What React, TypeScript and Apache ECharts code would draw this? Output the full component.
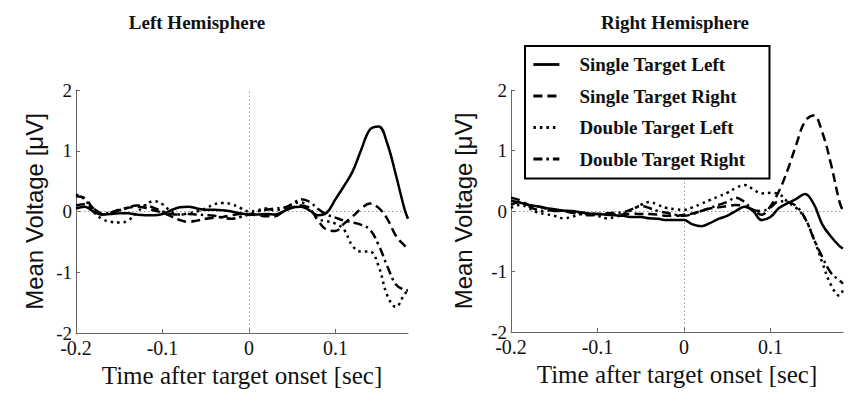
import React, { useEffect, useRef } from "react";
import * as echarts from "echarts";

// time samples (sec)
const times = [
  -0.2, -0.19, -0.18, -0.17, -0.16, -0.15, -0.14, -0.13, -0.12, -0.11,
  -0.1, -0.09, -0.08, -0.07, -0.06, -0.05, -0.04, -0.03, -0.02, -0.01,
  0.0, 0.01, 0.02, 0.03, 0.04, 0.05, 0.06, 0.07, 0.08, 0.09,
  0.1, 0.11, 0.12, 0.13, 0.14, 0.15, 0.16, 0.17, 0.18, 0.184,
];

const seriesNames = [
  "Single Target Left",
  "Single Target Right",
  "Double Target Left",
  "Double Target Right",
];

// Left hemisphere
const leftSTL = [
  0.05, 0.08, 0.0, -0.05, -0.04, -0.03, -0.03, -0.05, -0.06, -0.06,
  -0.04, 0.02, 0.07, 0.08, 0.05, 0.03, 0.03, 0.02, 0.0, -0.03,
  -0.05, -0.05, -0.04, -0.05, 0.0, 0.07, 0.08, 0.02, -0.06, -0.02,
  0.2, 0.42, 0.66, 1.02, 1.35, 1.4, 1.12, 0.6, 0.04, -0.12,
];
const leftSTR = [
  0.25, 0.22, 0.05, -0.05, -0.02, 0.03, 0.06, 0.08, 0.06, 0.02,
  -0.02, -0.08, -0.14, -0.17, -0.15, -0.12, -0.1, -0.09, -0.06, -0.04,
  -0.05, -0.06, -0.08, -0.08, 0.0, 0.06, 0.1, 0.05, -0.15, -0.3,
  -0.32, -0.2, -0.08, 0.05, 0.13, 0.06, -0.12, -0.4, -0.56, -0.6,
];
const leftDTL = [
  0.28, 0.2, 0.0, -0.12, -0.17, -0.18, -0.15, -0.02, 0.1, 0.17,
  0.12, 0.0, -0.05, -0.03, 0.0, 0.05, 0.12, 0.14, 0.12, 0.06,
  0.0, 0.02, 0.05, 0.02, 0.05, 0.12, 0.15, 0.05, -0.12, -0.16,
  -0.2, -0.3, -0.57, -0.66, -0.66, -0.9, -1.38, -1.57, -1.36, -1.3,
];
const leftDTR = [
  0.1, 0.12, 0.05, -0.03, -0.02, 0.02, 0.06, 0.1, 0.1, 0.06,
  0.0, -0.04, -0.05, -0.04, -0.05, -0.06, -0.07, -0.1, -0.12, -0.09,
  -0.05, 0.0, 0.03, 0.05, 0.06, 0.12, 0.2, 0.16, 0.04, -0.05,
  -0.1, -0.15, -0.18, -0.22, -0.3, -0.55, -0.9, -1.2, -1.29, -1.3,
];

// Right hemisphere
const rightSTL = [
  0.17, 0.14, 0.1, 0.08, 0.05, 0.03, 0.01, 0.0, -0.02, -0.04,
  -0.05, -0.06, -0.07, -0.08, -0.1, -0.1, -0.12, -0.13, -0.15, -0.15,
  -0.15, -0.22, -0.25, -0.2, -0.13, -0.08, 0.0, 0.07, 0.0, -0.15,
  -0.1, 0.05, 0.13, 0.2, 0.28, 0.12, -0.22, -0.42, -0.58, -0.62,
];
const rightSTR = [
  0.22, 0.18, 0.1, 0.08, 0.04, 0.0, 0.0, -0.02, -0.03, -0.04,
  -0.05, -0.05, -0.05, -0.06, -0.04, -0.05, -0.05, -0.06, -0.08, -0.08,
  -0.06, -0.04, 0.0, 0.04, 0.06, 0.08, 0.1, 0.08, 0.02, -0.06,
  0.08, 0.33, 0.68, 1.1, 1.48, 1.58, 1.3, 0.78, 0.15, 0.0,
];
const rightDTL = [
  0.05, 0.1, 0.05, -0.02, -0.05, -0.08, -0.12, -0.1, -0.05, -0.05,
  -0.08, -0.12, -0.1, -0.05, 0.02, 0.1, 0.15, 0.1, 0.05, 0.03,
  0.02, 0.06, 0.12, 0.18, 0.24, 0.3, 0.38, 0.43, 0.36, 0.29,
  0.3, 0.28, 0.15, 0.05, -0.12, -0.45, -0.85, -1.22, -1.4, -1.3,
];
const rightDTR = [
  0.1, 0.15, 0.08, 0.02, 0.0, 0.02, 0.0, -0.03, -0.05, -0.07,
  -0.06, -0.04, -0.03, -0.02, 0.03, 0.08, 0.05, 0.0, -0.03, -0.06,
  -0.08, -0.05, 0.0, 0.05, 0.1, 0.15, 0.22, 0.15, 0.02, 0.0,
  0.06, 0.16, 0.15, 0.08, -0.12, -0.45, -0.76, -1.02, -1.15, -1.2,
];

const titles = ["Left Hemisphere", "Right Hemisphere"];
const xAxisName = "Time after target onset [sec]";
const yAxisName = "Mean Voltage [\u03bcV]";

const SERIF = '"Liberation Serif", "Times New Roman", serif';
const SANS = '"Liberation Sans", Arial, sans-serif';

const dashTypes: any[] = ["solid", [9, 5], [2.5, 4], [9, 4, 2.5, 4]];

function pairs(vals: number[]) {
  return times.map((t, i) => [t, vals[i]]);
}

export default function App() {
  const ref = useRef<HTMLDivElement>(null);
  useEffect(() => {
    if (!ref.current) return;
    const chart = echarts.init(ref.current, undefined, { renderer: "svg" });

    const panels = [
      [leftSTL, leftSTR, leftDTL, leftDTR],
      [rightSTL, rightSTR, rightDTL, rightDTR],
    ];

    const xAxisBase = (gridIndex: number) => ({
      type: "value",
      gridIndex,
      min: -0.2,
      max: 0.184,
      interval: 0.1,
      name: xAxisName,
      nameLocation: "middle",
      nameGap: 29,
      nameTextStyle: { fontFamily: SERIF, fontSize: 25, color: "#111" },
      axisLine: { show: true, onZero: false, lineStyle: { color: "#666", width: 1 } },
      axisTick: { show: true, inside: true, length: 4, lineStyle: { color: "#666" } },
      axisLabel: {
        fontFamily: SERIF,
        fontSize: 20,
        color: "#111",
        margin: 5,
        showMaxLabel: false,
        formatter: (v: number) => String(+v.toFixed(1)),
      },
      splitLine: { show: false },
    });

    const yAxisBase = (gridIndex: number, gap: number) => ({
      type: "value",
      gridIndex,
      min: -2,
      max: 2,
      interval: 1,
      name: yAxisName,
      nameLocation: "middle",
      nameGap: gap,
      nameTextStyle: { fontFamily: SANS, fontSize: 24, color: "#111" },
      axisLine: { show: true, onZero: false, lineStyle: { color: "#666", width: 1 } },
      axisTick: { show: true, inside: true, length: 4, lineStyle: { color: "#666" } },
      axisLabel: { fontFamily: SERIF, fontSize: 19, color: "#111", margin: 4 },
      splitLine: { show: false },
    });

    const series: any[] = [];
    panels.forEach((vals, p) => {
      vals.forEach((v, i) => {
        const s: any = {
          type: "line",
          name: seriesNames[i],
          xAxisIndex: p,
          yAxisIndex: p,
          data: pairs(v),
          smooth: 0.4,
          symbol: "none",
          showSymbol: false,
          lineStyle: { color: "#000", width: 2.5, type: dashTypes[i] },
          itemStyle: { color: "#000" },
          z: 3,
        };
        if (i === 0) {
          s.markLine = {
            silent: true,
            symbol: "none",
            label: { show: false },
            lineStyle: { color: "#999", width: 1, type: [1.5, 2.5] },
            data: [{ xAxis: 0 }, { yAxis: 0 }],
            z: 1,
          };
        }
        series.push(s);
      });
    });

    chart.setOption({
      animation: false,
      backgroundColor: "#fff",
      grid: [
        { left: 76, top: 90, width: 332, height: 243 },
        { left: 511, top: 90, width: 332, height: 242 },
      ],
      xAxis: [xAxisBase(0), xAxisBase(1)],
      yAxis: [yAxisBase(0, 30), yAxisBase(1, 36)],
      legend: {
        show: true,
        orient: "vertical",
        left: 525,
        top: 46,
        data: seriesNames,
        backgroundColor: "#fff",
        borderColor: "#000",
        borderWidth: 2,
        padding: [9, 24, 10, 7],
        itemWidth: 26,
        itemHeight: 18,
        itemGap: 12.5,
        selectedMode: false,
        itemStyle: { color: "transparent", opacity: 0, borderWidth: 0 },
        lineStyle: { width: 2.8 },
        textStyle: {
          fontFamily: SERIF,
          fontWeight: "bold",
          fontSize: 19,
          color: "#111",
          padding: [0, 0, 0, 15],
        },
      },
      graphic: [
        {
          type: "text",
          x: 197,
          y: 22,
          style: {
            text: titles[0],
            align: "center",
            verticalAlign: "middle",
            font: `bold 19px ${SERIF}`,
            fill: "#111",
          },
        },
        {
          type: "text",
          x: 675,
          y: 22,
          style: {
            text: titles[1],
            align: "center",
            verticalAlign: "middle",
            font: `bold 19px ${SERIF}`,
            fill: "#111",
          },
        },
      ],
      series,
    });

    return () => chart.dispose();
  }, []);

  return (
    <div
      ref={ref}
      style={{ position: "fixed", left: 0, top: 0, width: 850, height: 411 }}
    />
  );
}
